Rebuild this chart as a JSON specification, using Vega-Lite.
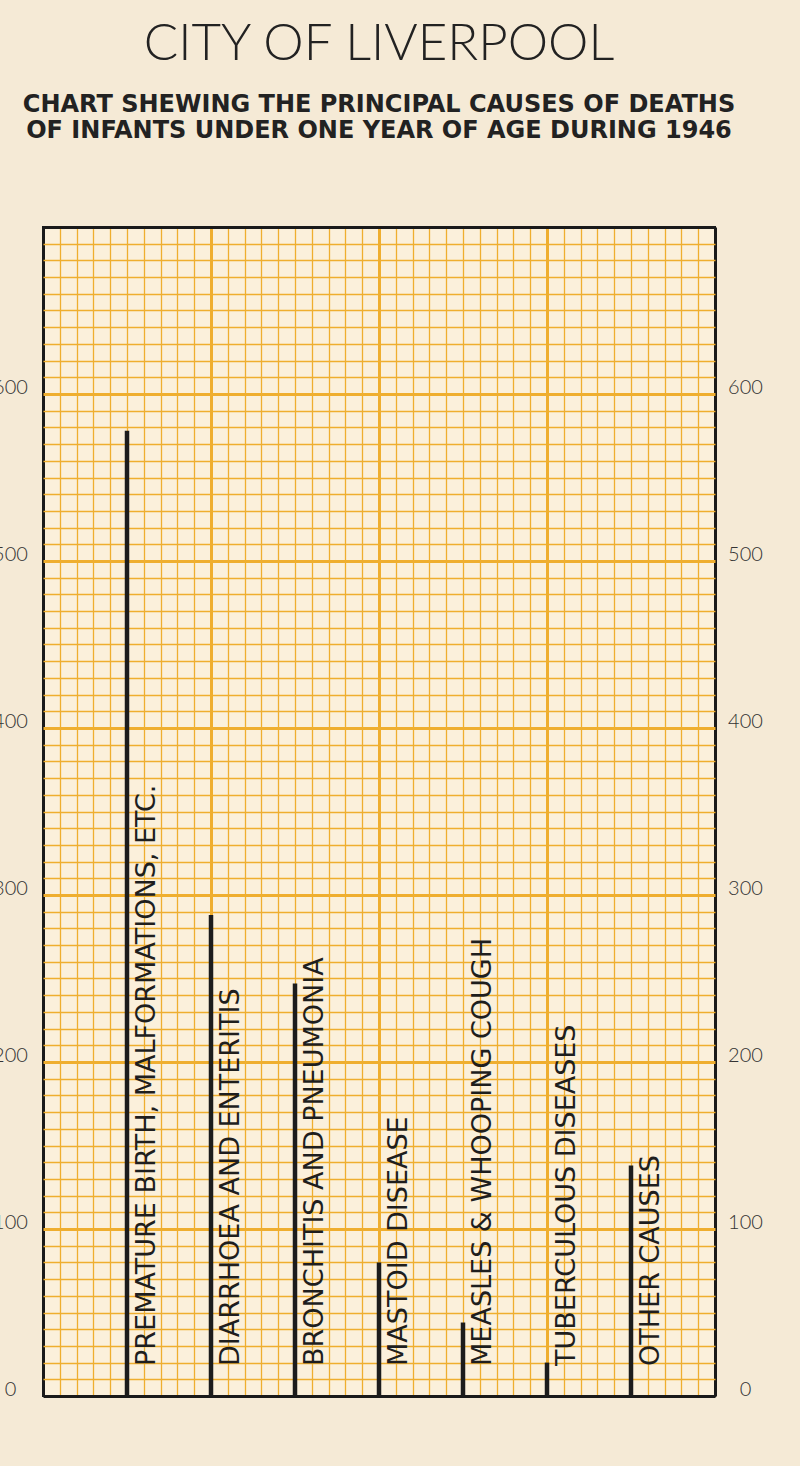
{
  "$schema": "https://vega.github.io/schema/vega-lite/v6.json",
  "width": 672,
  "height": 1169,
  "autosize": {"type": "none"},
  "padding": {"left": 43, "top": 227, "right": 85, "bottom": 70},
  "background": "#f5ead6",
  "title": {
    "text": "CITY OF LIVERPOOL",
    "subtitle": ["CHART SHEWING THE PRINCIPAL CAUSES OF DEATHS", "OF INFANTS UNDER ONE YEAR OF AGE DURING 1946"],
    "anchor": "middle",
    "frame": "group",
    "offset": 66,
    "font": "Lato",
    "fontSize": 51,
    "fontWeight": 300,
    "color": "#222222",
    "subtitleFont": "DejaVu Sans",
    "subtitleFontSize": 24,
    "subtitleFontWeight": "bold",
    "subtitleColor": "#222222",
    "subtitlePadding": 22,
    "subtitleLineHeight": 26
  },
  "config": {
    "view": {"stroke": "#1a1a1a", "strokeWidth": 2, "fill": "#fbf0db"}
  },
  "data": {
    "values": [
      {"n": 1, "cause": "PREMATURE BIRTH, MALFORMATIONS, ETC.", "deaths": 578},
      {"n": 2, "cause": "DIARRHOEA AND ENTERITIS", "deaths": 288},
      {"n": 3, "cause": "BRONCHITIS AND PNEUMONIA", "deaths": 247},
      {"n": 4, "cause": "MASTOID DISEASE", "deaths": 80},
      {"n": 5, "cause": "MEASLES & WHOOPING COUGH", "deaths": 44},
      {"n": 6, "cause": "TUBERCULOUS DISEASES", "deaths": 20},
      {"n": 7, "cause": "OTHER CAUSES", "deaths": 138}
    ]
  },
  "resolve": {"axis": {"x": "independent", "y": "independent"}},
  "layer": [
    {
      "mark": {"type": "rule", "strokeWidth": 4.5, "color": "#1c1c1c", "strokeCap": "butt"},
      "encoding": {
        "x": {
          "field": "n",
          "type": "quantitative",
          "scale": {"domain": [0, 8], "nice": false, "zero": false},
          "axis": {
            "values": [0, 0.2, 0.4, 0.6, 0.8, 1, 1.2, 1.4, 1.6, 1.8, 2, 2.2, 2.4, 2.6, 2.8, 3, 3.2, 3.4, 3.6, 3.8, 4, 4.2, 4.4, 4.6, 4.8, 5, 5.2, 5.4, 5.6, 5.8, 6, 6.2, 6.4, 6.6, 6.8, 7, 7.2, 7.4, 7.6, 7.8, 8],
            "grid": true,
            "gridColor": {"condition": {"test": "datum.value == 0 || datum.value == 8", "value": "#1a1a1a"}, "value": "#efae2f"},
            "gridOpacity": 1,
            "gridWidth": {"condition": {"test": "datum.value % 2 === 0", "value": 3}, "value": 1.3},
            "labels": false,
            "ticks": false,
            "domain": false,
            "title": null
          }
        },
        "y": {
          "field": "deaths",
          "type": "quantitative",
          "scale": {"domain": [0, 700], "nice": false},
          "axis": {
            "orient": "left",
            "values": [0, 10, 20, 30, 40, 50, 60, 70, 80, 90, 100, 110, 120, 130, 140, 150, 160, 170, 180, 190, 200, 210, 220, 230, 240, 250, 260, 270, 280, 290, 300, 310, 320, 330, 340, 350, 360, 370, 380, 390, 400, 410, 420, 430, 440, 450, 460, 470, 480, 490, 500, 510, 520, 530, 540, 550, 560, 570, 580, 590, 600, 610, 620, 630, 640, 650, 660, 670, 680, 690, 700],
            "grid": true,
            "gridColor": {"condition": {"test": "datum.value == 0 || datum.value == 700", "value": "#1a1a1a"}, "value": "#efae2f"},
            "gridOpacity": 1,
            "gridWidth": {"condition": {"test": "datum.value % 100 === 0", "value": 3}, "value": 1.3},
            "ticks": false,
            "tickSize": 0,
            "domain": false,
            "title": null,
            "labelExpr": "datum.value % 100 === 0 && datum.value < 700 ? datum.label : ''",
            "labelOverlap": false,
            "labelFlush": false,
            "labelBound": false,
            "labelAlign": "center",
            "labelBaseline": "middle",
            "labelPadding": 33,
            "labelOffset": -7,
            "labelFont": "Lato",
            "labelFontSize": 20,
            "labelFontWeight": 300,
            "labelColor": "#333333"
          }
        },
        "y2": {"datum": 0}
      }
    },
    {
      "mark": {"type": "text", "angle": -90, "align": "left", "baseline": "middle", "dy": 20, "font": "DejaVu Sans", "fontSize": 27, "color": "#1e1e1e"},
      "encoding": {
        "x": {"field": "n", "type": "quantitative", "axis": null},
        "y": {"datum": 18, "type": "quantitative", "axis": null},
        "text": {"field": "cause"}
      }
    },
    {
      "mark": {"type": "rule", "strokeOpacity": 0},
      "encoding": {
        "x": {"field": "n", "type": "quantitative", "axis": null},
        "y": {
          "field": "deaths",
          "type": "quantitative",
          "axis": {
            "orient": "right",
            "values": [0, 100, 200, 300, 400, 500, 600],
            "grid": false,
            "ticks": false,
            "tickSize": 0,
            "domain": false,
            "title": null,
            "labelOverlap": false,
            "labelFlush": false,
            "labelBound": false,
            "labelAlign": "center",
            "labelBaseline": "middle",
            "labelPadding": 30,
            "labelOffset": -7,
            "labelFont": "Lato",
            "labelFontSize": 20,
            "labelFontWeight": 300,
            "labelColor": "#333333"
          }
        }
      }
    }
  ]
}
